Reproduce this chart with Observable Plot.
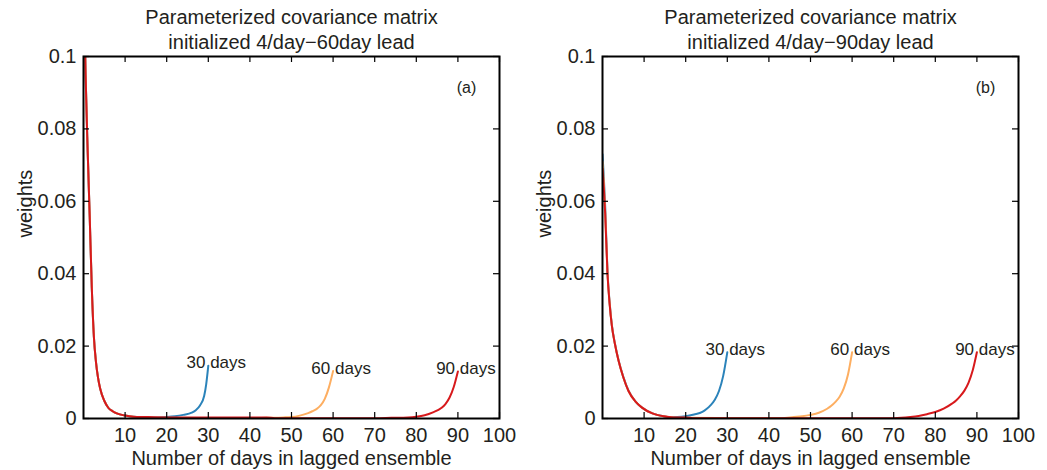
<!DOCTYPE html>
<html>
<head>
<meta charset="utf-8">
<script src="https://cdn.jsdelivr.net/npm/d3@7"></script>
<script src="https://cdn.jsdelivr.net/npm/@observablehq/plot@0.6"></script>
<style>
  html, body { margin: 0; padding: 0; background: #fff; }
  #wrap { display: flex; width: 1047px; height: 470px; }
</style>
</head>
<body>
<div id="wrap"><div id="pa"></div><div id="pb"></div></div>
<script>
// ---------- data ----------
const titlesA = ["Parameterized covariance matrix", "initialized 4/day\u221260day lead"];
const titlesB = ["Parameterized covariance matrix", "initialized 4/day\u221290day lead"];
const xLabel = "Number of days in lagged ensemble";
const yLabel = "weights";
const xTicks = [10, 20, 30, 40, 50, 60, 70, 80, 90, 100];
const yTicks = [0, 0.02, 0.04, 0.06, 0.08, 0.1];
const endLabels = ["30 days", "60 days", "90 days"];
const seriesColors = ["#2b83ba", "#fdae61", "#d7191c"];

// Panel (a)
const aBlueX = [0, 0.5, 1, 1.5, 2, 2.5, 3, 3.5, 4, 5, 6, 7, 8, 10, 12, 15, 18, 20, 22, 24, 26, 27, 28, 29, 29.5, 30];
const aBlueY = [0.125, 0.095, 0.074, 0.0555, 0.036, 0.0225, 0.0156, 0.0112, 0.0083, 0.0049, 0.0029, 0.002, 0.0014, 0.0008, 0.0005, 0.0004, 0.0003, 0.0004, 0.0006, 0.001, 0.0016, 0.0023, 0.0036, 0.0062, 0.0095, 0.0146];
const aOrangeX = [0, 0.5, 1, 1.5, 2, 2.5, 3, 3.5, 4, 5, 6, 7, 8, 10, 12, 15, 20, 30, 40, 44, 48, 50, 52, 54, 55, 56, 57, 58, 59, 60];
const aOrangeY = [0.125, 0.095, 0.074, 0.0555, 0.036, 0.0225, 0.0156, 0.0112, 0.0083, 0.0049, 0.0029, 0.002, 0.0014, 0.0008, 0.0005, 0.0003, 0.0002, 0.0001, 0.0001, 0.0002, 0.0003, 0.0004, 0.0008, 0.0015, 0.002, 0.0026, 0.0036, 0.0054, 0.0086, 0.0131];
const aRedX = [0, 0.5, 1, 1.5, 2, 2.5, 3, 3.5, 4, 5, 6, 7, 8, 10, 12, 15, 20, 30, 40, 44, 46, 60, 70, 74, 78, 80, 82, 84, 86, 87, 88, 89, 90];
const aRedY = [0.125, 0.095, 0.074, 0.0555, 0.036, 0.0225, 0.0156, 0.0112, 0.0083, 0.0049, 0.0029, 0.002, 0.0014, 0.0008, 0.0005, 0.0004, 0.0003, 0.0003, 0.0003, 0.0003, 0.0001, 0.0001, 0.0001, 0.0002, 0.0003, 0.0005, 0.0009, 0.0017, 0.0029, 0.004, 0.0058, 0.0087, 0.013];

// Panel (b)
const bBlueX = [0, 0.3, 0.65, 1.2, 1.7, 2.26, 3, 3.85, 5, 6.25, 8, 9.5, 12, 14.7, 16, 18, 20, 22, 24, 25, 26, 27, 28, 29, 30];
const bBlueY = [0.073, 0.067, 0.0585, 0.0405, 0.0322, 0.0257, 0.0206, 0.0161, 0.0115, 0.0077, 0.0046, 0.003, 0.0014, 0.0006, 0.0004, 0.0004, 0.0006, 0.0011, 0.0018, 0.0026, 0.0037, 0.0052, 0.0076, 0.0117, 0.0183];
const bOrangeX = [0, 0.3, 0.65, 1.2, 1.7, 2.26, 3, 3.85, 5, 6.25, 8, 9.5, 12, 14.7, 17, 20, 30, 43, 46, 48, 50, 52, 54, 55, 56, 57, 58, 59, 60];
const bOrangeY = [0.071, 0.0655, 0.057, 0.0402, 0.032, 0.0256, 0.0205, 0.016, 0.0114, 0.0076, 0.0046, 0.003, 0.0014, 0.0006, 0.0003, 0.0002, 0.0001, 0.0001, 0.0004, 0.0006, 0.001, 0.0016, 0.0027, 0.0035, 0.0046, 0.006, 0.0083, 0.0121, 0.0183];
const bRedX = [0, 0.3, 0.65, 1.2, 1.7, 2.26, 3, 3.85, 5, 6.25, 8, 9.5, 12, 14.7, 17, 20, 21, 22, 70, 74, 76, 78, 80, 82, 84, 85, 86, 87, 88, 89, 90];
const bRedY = [0.069, 0.064, 0.0565, 0.04, 0.0318, 0.0255, 0.0205, 0.016, 0.0114, 0.0076, 0.0046, 0.003, 0.0014, 0.0006, 0.0003, 0.0003, 0.0002, 0.0001, 0.0001, 0.0004, 0.0007, 0.0012, 0.0018, 0.0027, 0.0041, 0.005, 0.0062, 0.0077, 0.0099, 0.0133, 0.0183];

// ---------- drawing ----------
const FONT = "'Liberation Sans', Arial, Helvetica, sans-serif";
const INK = "#231f20";

function rows(xs, ys) { return xs.map((x, i) => ({lag: x, w: ys[i]})); }

function panel(titles, tag, series, width, marginLeft, marginRight) {
  const height = 470, marginTop = 56, marginBottom = 52;
  const frameH = height - marginTop - marginBottom;
  const frameW = width - marginLeft - marginRight;
  const tick = 6;
  const ends = series.map((s, i) => ({lag: s.x[s.x.length - 1], w: s.y[s.y.length - 1], label: endLabels[i]}));
  const marks = [];
  series.forEach((s, i) => {
    marks.push(Plot.line(rows(s.x, s.y), {x: "lag", y: "w", stroke: seriesColors[i], strokeWidth: 2, curve: "monotone-x", clip: true}));
  });
  marks.push(
    Plot.frame({stroke: "black", strokeWidth: 2}),
    Plot.tickX(xTicks, {x: d => d, insetTop: frameH - tick, stroke: "black", strokeWidth: 1.2}),
    Plot.tickX(xTicks, {x: d => d, insetBottom: frameH - tick, stroke: "black", strokeWidth: 1.2}),
    Plot.tickY(yTicks, {y: d => d, insetRight: frameW - tick, stroke: "black", strokeWidth: 1.2}),
    Plot.tickY(yTicks, {y: d => d, insetLeft: frameW - tick, stroke: "black", strokeWidth: 1.2}),
    Plot.axisX(xTicks, {tickSize: 0, tickPadding: 9, fontSize: 20, label: null, fill: INK}),
    Plot.axisY(yTicks, {tickSize: 0, tickPadding: 7, fontSize: 20, label: null, fill: INK, tickFormat: d => String(d)}),
    Plot.text([titles[0]], {frameAnchor: "top", dy: -39, lineAnchor: "middle", fontSize: 20, fill: INK}),
    Plot.text([titles[1]], {frameAnchor: "top", dy: -14, lineAnchor: "middle", fontSize: 20, fill: INK}),
    Plot.text([xLabel], {frameAnchor: "bottom", dy: 40, lineAnchor: "middle", fontSize: 20, fill: INK}),
    Plot.text([yLabel], {frameAnchor: "left", dx: -58, rotate: -90, lineAnchor: "middle", fontSize: 20, fill: INK}),
    Plot.text([tag], {frameAnchor: "top-right", dx: -33, dy: 31, textAnchor: "middle", lineAnchor: "middle", fontSize: 16, fill: INK}),
    Plot.text(ends, {x: "lag", y: "w", text: "label", dx: 8, dy: -3, textAnchor: "middle", lineAnchor: "middle", fontSize: 17, fill: INK})
  );
  return Plot.plot({
    width, height, marginTop, marginBottom, marginLeft, marginRight,
    style: {fontFamily: FONT, background: "white", color: INK},
    x: {domain: [0, 100], label: null},
    y: {domain: [0, 0.1], label: null},
    marks
  });
}

document.getElementById("pa").appendChild(panel(titlesA, "(a)", [
  {x: aBlueX, y: aBlueY}, {x: aOrangeX, y: aOrangeY}, {x: aRedX, y: aRedY}
], 523, 83, 24));
document.getElementById("pb").appendChild(panel(titlesB, "(b)", [
  {x: bBlueX, y: bBlueY}, {x: bOrangeX, y: bOrangeY}, {x: bRedX, y: bRedY}
], 524, 79, 29));
</script>
</body>
</html>
